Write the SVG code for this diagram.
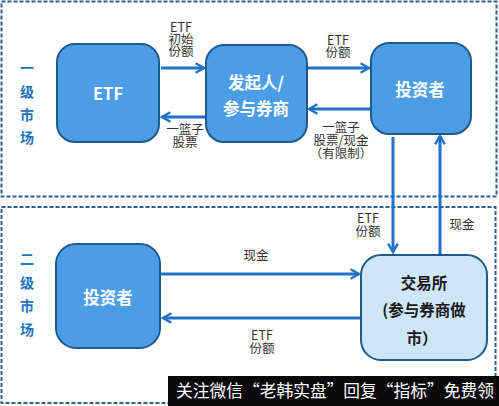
<svg xmlns="http://www.w3.org/2000/svg" width="499" height="406" viewBox="0 0 499 406">
<defs>
<style>
.zone{fill:none;stroke:#2e5f8e;stroke-width:2;stroke-dasharray:4 2}
.node{fill:#4d9de6;stroke:#1f5a8c;stroke-width:2}
.node2{fill:#cfe5f9;stroke:#1f5a8c;stroke-width:2}
.nt{font-family:"Noto Sans CJK SC","Noto Sans",sans-serif;font-size:16.5px;font-weight:bold;fill:#fff;text-anchor:middle}
.nt2{font-family:"Noto Sans CJK SC","Noto Sans",sans-serif;font-size:15.5px;font-weight:bold;fill:#1a1a1a;text-anchor:middle}
.lbl{font-family:"Noto Sans CJK SC","Noto Sans",sans-serif;font-size:12.5px;fill:#333;text-anchor:middle}
.side{font-family:"Noto Sans CJK SC","Noto Sans",sans-serif;font-size:14px;font-weight:bold;fill:#1e73be;text-anchor:middle}
.arr{fill:none;stroke:#1e73c8;stroke-width:3;marker-end:url(#ah)}
.wm{font-family:"Noto Sans CJK SC","Noto Sans",sans-serif;font-size:17px;fill:#fff}
</style>
<marker id="ah" viewBox="0 0 10 10" refX="8" refY="5" markerWidth="4" markerHeight="4" orient="auto" markerUnits="strokeWidth">
<path d="M1,1 L8,5 L1,9" fill="none" stroke="#1e73c8" stroke-width="2"/>
</marker>
</defs>
<rect class="zone" x="1.5" y="1.5" width="495" height="195"/>
<rect class="zone" x="1.5" y="207" width="494" height="196"/>
<g id="label-primary">
<text class="side" x="27" y="73">一</text>
<text class="side" x="27" y="97">级</text>
<text class="side" x="27" y="120">市</text>
<text class="side" x="27" y="143">场</text>
</g>
<g id="label-secondary">
<text class="side" x="27" y="264">二</text>
<text class="side" x="27" y="288">级</text>
<text class="side" x="27" y="311">市</text>
<text class="side" x="27" y="335">场</text>
</g>
<g id="connectors">
<line class="arr" x1="161" y1="68" x2="204" y2="68"/>
<line class="arr" x1="206" y1="117" x2="162" y2="117"/>
<line class="arr" x1="308" y1="68" x2="369" y2="68"/>
<line class="arr" x1="370" y1="109" x2="309" y2="109"/>
<line class="arr" x1="393" y1="137" x2="393" y2="252"/>
<line class="arr" x1="440" y1="255" x2="440" y2="136"/>
<line class="arr" x1="161" y1="274" x2="359" y2="274"/>
<line class="arr" x1="361" y1="318" x2="163" y2="318"/>
<text class="lbl" x="181" y="32">ETF<tspan x="181" dy="12">初始</tspan><tspan x="181" dy="12">份额</tspan></text>
<text class="lbl" x="185" y="134">一篮子<tspan x="185" dy="13">股票</tspan></text>
<text class="lbl" x="338" y="45">ETF<tspan x="338" dy="12">份额</tspan></text>
<text class="lbl" x="341" y="132">一篮子<tspan x="341" dy="13">股票/现金</tspan><tspan x="341" dy="13">（有限制）</tspan></text>
<text class="lbl" x="368" y="223">ETF<tspan x="368" dy="13">份额</tspan></text>
<text class="lbl" x="462" y="229">现金</text>
<text class="lbl" x="256" y="260">现金</text>
<text class="lbl" x="262" y="340">ETF<tspan x="262" dy="13">份额</tspan></text>
</g>
<g id="etf">
<rect class="node" x="57" y="44" width="102" height="98" rx="18"/>
<text class="nt" x="108" y="100">ETF</text>
</g>
<g id="sponsor">
<rect class="node" x="206" y="45" width="101" height="97" rx="18"/>
<text class="nt" x="256" y="89">发起人/</text>
<text class="nt" x="256" y="115">参与券商</text>
</g>
<g id="investor-primary">
<rect class="node" x="371" y="43" width="100" height="91" rx="18"/>
<text class="nt" x="420" y="96">投资者</text>
</g>
<g id="investor-secondary">
<rect class="node" x="56" y="244" width="104" height="104" rx="20"/>
<text class="nt" x="108" y="304">投资者</text>
</g>
<g id="exchange">
<rect class="node2" x="361" y="255" width="126" height="105" rx="20"/>
<text class="nt2" x="424" y="289">交易所</text>
<text class="nt2" x="424" y="316">(参与券商做</text>
<text class="nt2" x="422" y="344">市）</text>
</g>
<g id="watermark">
<rect x="168" y="376" width="331" height="30" fill="#0a0a0a"/>
<text class="wm" x="176" y="397" textLength="318" lengthAdjust="spacingAndGlyphs">关注微信“老韩实盘”回复“指标”免费领</text>
</g>
</svg>
